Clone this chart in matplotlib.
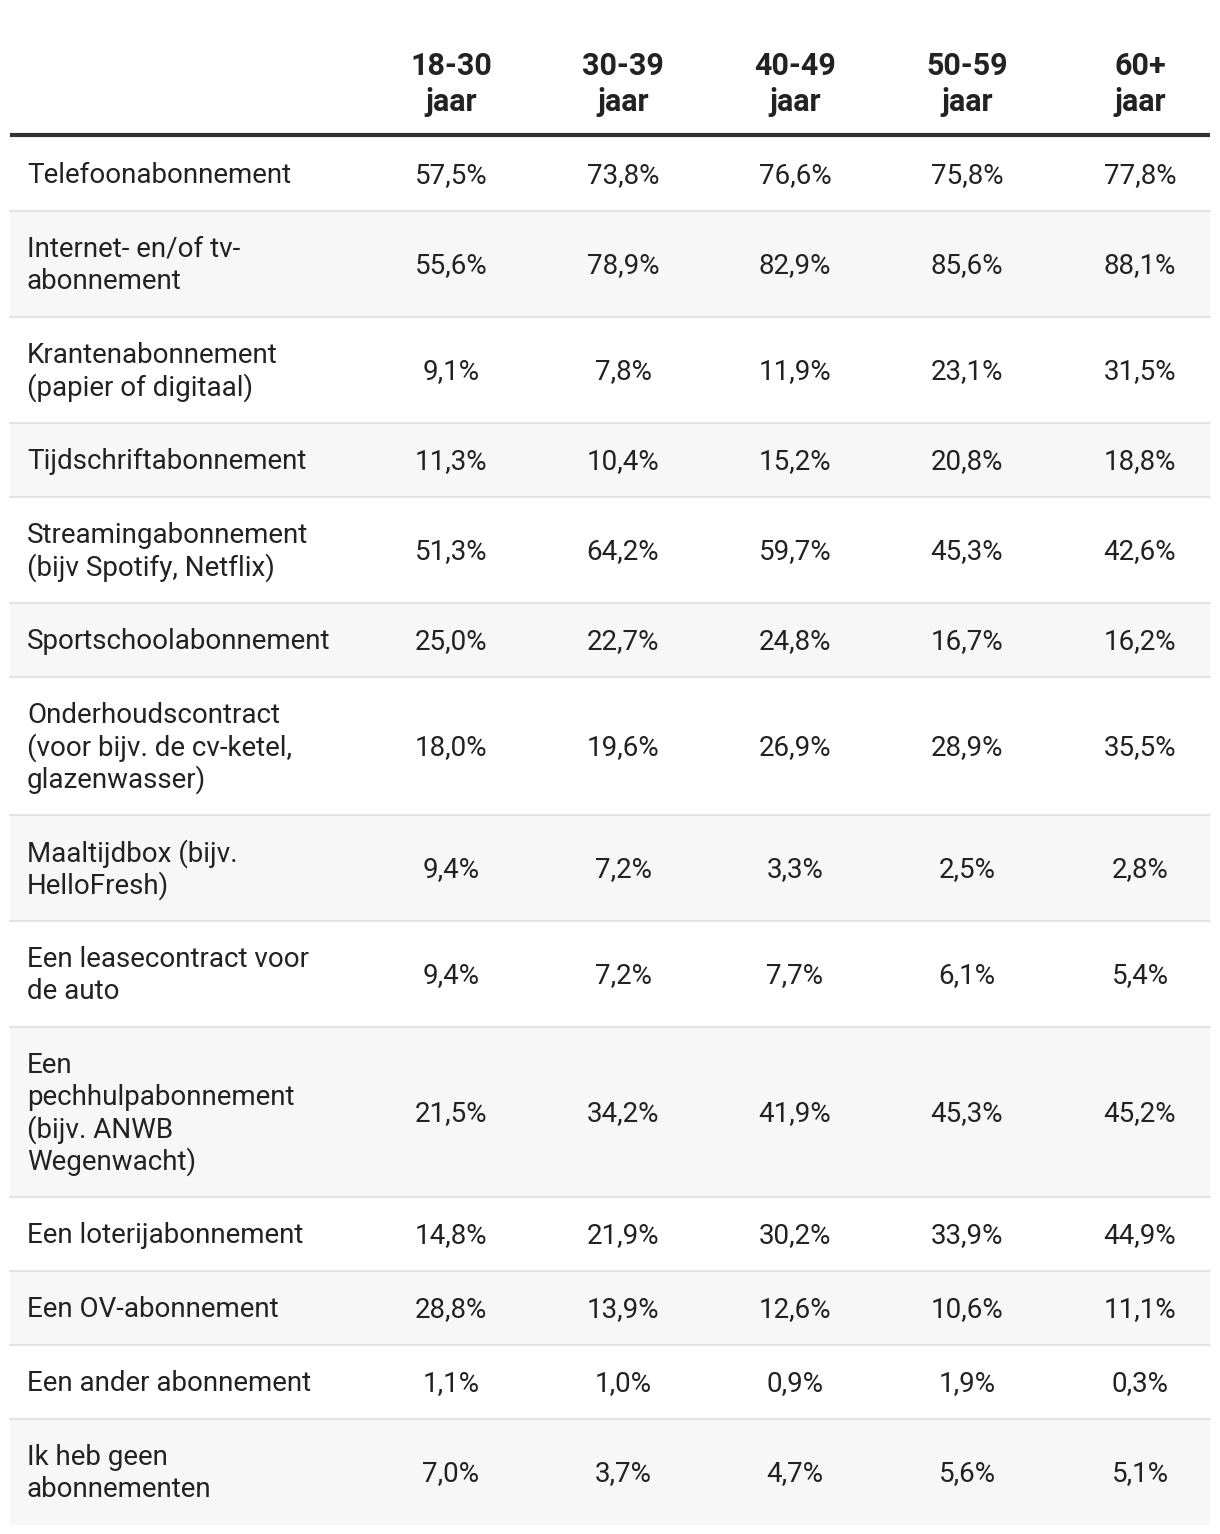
import matplotlib.pyplot as plt
from matplotlib.patches import Rectangle

# ----- data -----
columns = ['18-30\njaar', '30-39\njaar', '40-49\njaar', '50-59\njaar', '60+\njaar']
labels = [
    'Telefoonabonnement',
    'Internet- en/of tv-\nabonnement',
    'Krantenabonnement\n(papier of digitaal)',
    'Tijdschriftabonnement',
    'Streamingabonnement\n(bijv Spotify, Netflix)',
    'Sportschoolabonnement',
    'Onderhoudscontract\n(voor bijv. de cv-ketel,\nglazenwasser)',
    'Maaltijdbox (bijv.\nHelloFresh)',
    'Een leasecontract voor\nde auto',
    'Een\npechhulpabonnement\n(bijv. ANWB\nWegenwacht)',
    'Een loterijabonnement',
    'Een OV-abonnement',
    'Een ander abonnement',
    'Ik heb geen\nabonnementen',
]
age_18_30 = ['57,5%', '55,6%', '9,1%', '11,3%', '51,3%', '25,0%', '18,0%', '9,4%', '9,4%', '21,5%', '14,8%', '28,8%', '1,1%', '7,0%']
age_30_39 = ['73,8%', '78,9%', '7,8%', '10,4%', '64,2%', '22,7%', '19,6%', '7,2%', '7,2%', '34,2%', '21,9%', '13,9%', '1,0%', '3,7%']
age_40_49 = ['76,6%', '82,9%', '11,9%', '15,2%', '59,7%', '24,8%', '26,9%', '3,3%', '7,7%', '41,9%', '30,2%', '12,6%', '0,9%', '4,7%']
age_50_59 = ['75,8%', '85,6%', '23,1%', '20,8%', '45,3%', '16,7%', '28,9%', '2,5%', '6,1%', '45,3%', '33,9%', '10,6%', '1,9%', '5,6%']
age_60p = ['77,8%', '88,1%', '31,5%', '18,8%', '42,6%', '16,2%', '35,5%', '2,8%', '5,4%', '45,2%', '44,9%', '11,1%', '0,3%', '5,1%']
values = [age_18_30, age_30_39, age_40_49, age_50_59, age_60p]

# ----- layout (pixels) -----
W, H = 1220, 1534
plt.rcParams['font.family'] = ['Roboto', 'DejaVu Sans']
fig = plt.figure(figsize=(W / 100, H / 100), dpi=100)
ax = fig.add_axes([0, 0, 1, 1])
ax.set_xlim(0, W)
ax.set_ylim(H, 0)
ax.axis('off')

left, right = 10, 1210
col_x = [451, 623, 795, 967, 1140]
label_x = 27
fs = 20
fs_head = 22
line_h = 32
pad = 42
txt = '#222222'

# header
for cx, col in zip(col_x, columns):
    for k, part in enumerate(col.split('\n')):
        ax.text(cx, 63 + k * 36, part, ha='center', va='center_baseline',
                fontsize=fs_head, fontweight='bold', color=txt)
ax.plot([left, right], [135, 135], color='#333333', lw=3, solid_capstyle='butt')

# rows
y = 137
for i, lab in enumerate(labels):
    lines = lab.split('\n')
    h = len(lines) * line_h + pad
    if i % 2 == 1:
        ax.add_patch(Rectangle((left, y), right - left, h, color='#f7f7f7', lw=0))
    if i > 0:
        ax.plot([left, right], [y, y], color='#e4e4e4', lw=1.5)
    cy = y + h / 2 - 1.5
    for k, part in enumerate(lines):
        ly = cy + (k - (len(lines) - 1) / 2) * line_h
        ax.text(label_x, ly, part, ha='left', va='center_baseline', fontsize=fs, color=txt)
    for cx, col_vals in zip(col_x, values):
        ax.text(cx, cy, col_vals[i], ha='center', va='center_baseline', fontsize=fs, color=txt)
    y += h

fig.savefig('out.png', dpi=100, facecolor='white')
